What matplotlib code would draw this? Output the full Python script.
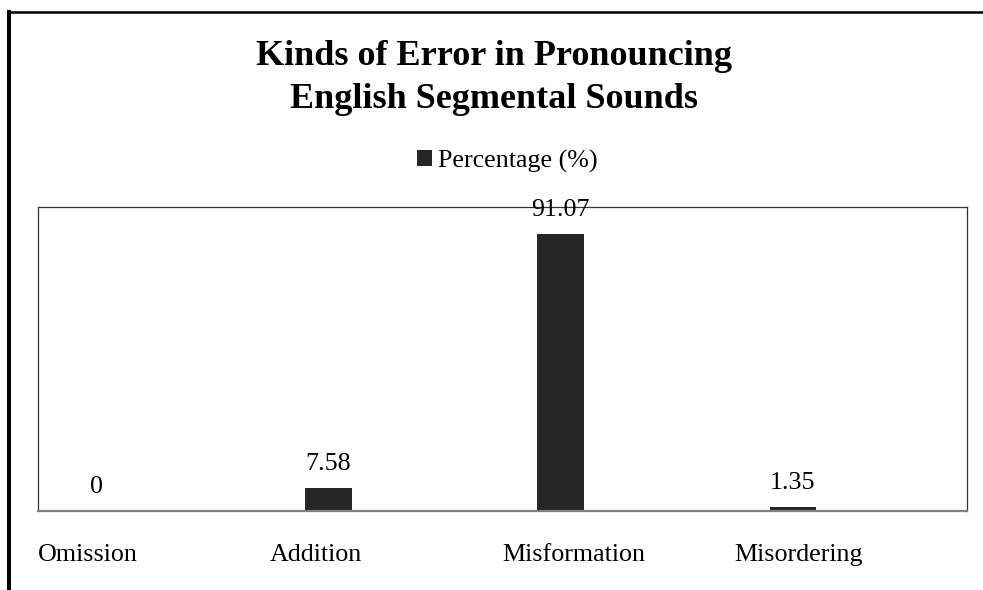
import matplotlib
matplotlib.use("Agg")
import matplotlib.pyplot as plt
from matplotlib.lines import Line2D
import numpy as np

categories = ["Omission", "Addition", "Misformation", "Misordering"]
percentages = [0, 7.58, 91.07, 1.35]
value_labels = ["0", "7.58", "91.07", "1.35"]
series_name = "Percentage (%)"
title_lines = ["Kinds of Error in Pronouncing", "English Segmental Sounds"]

plt.rcParams['font.family'] = ['Liberation Serif', 'DejaVu Serif']

W, H = 983, 590
fig = plt.figure(figsize=(W / 100, H / 100), dpi=100)
ax = fig.add_axes([38 / W, 1 - 511 / H, 929 / W, (511 - 207) / H])

x = np.arange(len(categories))
bars = ax.bar(x, percentages, width=0.2, color='#262626', label=series_name)
ax.set_xlim(-0.25, len(categories) - 0.25)
ax.set_ylim(0, 100)

for xi, val, lab in zip(x, percentages, value_labels):
    ax.annotate(lab, (xi, val), xytext=(0, 13), textcoords='offset points',
                ha='center', va='baseline', fontsize=18.7, color='black')

# category labels are left aligned at the start of each slot
ax.set_xticks(x - 0.25)
ax.set_xticklabels(categories, fontsize=18.7, ha='left')
ax.tick_params(axis='x', length=0, pad=23.5)
ax.set_yticks([])

for side in ['left', 'top', 'right']:
    ax.spines[side].set_color('#333333')
    ax.spines[side].set_linewidth(0.9)
ax.spines['bottom'].set_color('#808080')
ax.spines['bottom'].set_linewidth(1.6)

# two title lines, baselines placed separately
for line, base_px in zip(title_lines, [65, 108]):
    fig.text(494 / W, 1 - base_px / H, line, ha='center', va='baseline',
             fontsize=26, fontweight='bold')

fig.legend(handles=[bars], labels=[series_name], loc='center',
           bbox_to_anchor=(507 / W, 1 - 161 / H), frameon=False,
           fontsize=18.7, handlelength=0.6, handleheight=0.6,
           handletextpad=0.2, borderpad=0, borderaxespad=0)

# partial outer frame of the chart area
fig.add_artist(Line2D([9.3 / W, 9.3 / W], [1 - 10 / H, 0], transform=fig.transFigure,
                      color='black', linewidth=2.9, solid_capstyle='butt'))
fig.add_artist(Line2D([7.3 / W, 1], [1 - 12 / H, 1 - 12 / H], transform=fig.transFigure,
                      color='black', linewidth=1.8, solid_capstyle='butt'))

fig.savefig("out.png", dpi=100)
